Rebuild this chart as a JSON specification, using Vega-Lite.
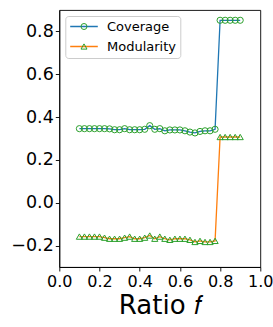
{
  "$schema": "https://vega.github.io/schema/vega-lite/v6.json",
  "autosize": "none",
  "padding": {"left": 59.3, "top": 10, "right": 12.7, "bottom": 60},
  "width": 201,
  "height": 257,
  "background": "white",
  "config": {
    "font": "DejaVu Sans",
    "view": {"stroke": "black", "strokeWidth": 0.9},
    "axis": {"grid": false, "domainColor": "black", "domainWidth": 0.9, "tickColor": "black", "tickWidth": 0.9, "tickSize": 4, "labelColor": "black", "titleColor": "black", "labelFont": "DejaVu Sans", "titleFont": "DejaVu Sans"}
  },
  "data": {"values": [
    {"x": 0.1, "series": "Coverage", "y": 0.346},
    {"x": 0.125, "series": "Coverage", "y": 0.346},
    {"x": 0.15, "series": "Coverage", "y": 0.346},
    {"x": 0.175, "series": "Coverage", "y": 0.346},
    {"x": 0.2, "series": "Coverage", "y": 0.346},
    {"x": 0.225, "series": "Coverage", "y": 0.346},
    {"x": 0.25, "series": "Coverage", "y": 0.345},
    {"x": 0.275, "series": "Coverage", "y": 0.341},
    {"x": 0.3, "series": "Coverage", "y": 0.341},
    {"x": 0.325, "series": "Coverage", "y": 0.346},
    {"x": 0.35, "series": "Coverage", "y": 0.341},
    {"x": 0.375, "series": "Coverage", "y": 0.341},
    {"x": 0.4, "series": "Coverage", "y": 0.341},
    {"x": 0.425, "series": "Coverage", "y": 0.343},
    {"x": 0.45, "series": "Coverage", "y": 0.36},
    {"x": 0.475, "series": "Coverage", "y": 0.343},
    {"x": 0.5, "series": "Coverage", "y": 0.346},
    {"x": 0.525, "series": "Coverage", "y": 0.336},
    {"x": 0.55, "series": "Coverage", "y": 0.34},
    {"x": 0.575, "series": "Coverage", "y": 0.34},
    {"x": 0.6, "series": "Coverage", "y": 0.34},
    {"x": 0.625, "series": "Coverage", "y": 0.336},
    {"x": 0.65, "series": "Coverage", "y": 0.33},
    {"x": 0.675, "series": "Coverage", "y": 0.326},
    {"x": 0.7, "series": "Coverage", "y": 0.333},
    {"x": 0.725, "series": "Coverage", "y": 0.336},
    {"x": 0.75, "series": "Coverage", "y": 0.336},
    {"x": 0.775, "series": "Coverage", "y": 0.343},
    {"x": 0.8, "series": "Coverage", "y": 0.852},
    {"x": 0.825, "series": "Coverage", "y": 0.852},
    {"x": 0.85, "series": "Coverage", "y": 0.852},
    {"x": 0.875, "series": "Coverage", "y": 0.852},
    {"x": 0.9, "series": "Coverage", "y": 0.852},
    {"x": 0.1, "series": "Modularity", "y": -0.158},
    {"x": 0.125, "series": "Modularity", "y": -0.158},
    {"x": 0.15, "series": "Modularity", "y": -0.158},
    {"x": 0.175, "series": "Modularity", "y": -0.158},
    {"x": 0.2, "series": "Modularity", "y": -0.158},
    {"x": 0.225, "series": "Modularity", "y": -0.163},
    {"x": 0.25, "series": "Modularity", "y": -0.168},
    {"x": 0.275, "series": "Modularity", "y": -0.168},
    {"x": 0.3, "series": "Modularity", "y": -0.168},
    {"x": 0.325, "series": "Modularity", "y": -0.163},
    {"x": 0.35, "series": "Modularity", "y": -0.158},
    {"x": 0.375, "series": "Modularity", "y": -0.168},
    {"x": 0.4, "series": "Modularity", "y": -0.168},
    {"x": 0.425, "series": "Modularity", "y": -0.163},
    {"x": 0.45, "series": "Modularity", "y": -0.153},
    {"x": 0.475, "series": "Modularity", "y": -0.168},
    {"x": 0.5, "series": "Modularity", "y": -0.158},
    {"x": 0.525, "series": "Modularity", "y": -0.168},
    {"x": 0.55, "series": "Modularity", "y": -0.173},
    {"x": 0.575, "series": "Modularity", "y": -0.168},
    {"x": 0.6, "series": "Modularity", "y": -0.168},
    {"x": 0.625, "series": "Modularity", "y": -0.168},
    {"x": 0.65, "series": "Modularity", "y": -0.173},
    {"x": 0.675, "series": "Modularity", "y": -0.183},
    {"x": 0.7, "series": "Modularity", "y": -0.178},
    {"x": 0.725, "series": "Modularity", "y": -0.183},
    {"x": 0.75, "series": "Modularity", "y": -0.183},
    {"x": 0.775, "series": "Modularity", "y": -0.178},
    {"x": 0.8, "series": "Modularity", "y": 0.307},
    {"x": 0.825, "series": "Modularity", "y": 0.307},
    {"x": 0.85, "series": "Modularity", "y": 0.307},
    {"x": 0.875, "series": "Modularity", "y": 0.307},
    {"x": 0.9, "series": "Modularity", "y": 0.307}
  ]},
  "encoding": {
    "x": {"field": "x", "type": "quantitative", "scale": {"domain": [0, 1], "nice": false, "zero": false},
      "axis": {"values": [0, 0.2, 0.4, 0.6, 0.8, 1.0], "format": ".1f", "labelFontSize": 16, "labelPadding": 2, "labelFlush": false, "labelOverlap": false, "title": "Ratio 𝑓", "titleFontSize": 26, "titleFontWeight": "normal", "titlePadding": 3}},
    "y": {"field": "y", "type": "quantitative", "scale": {"domain": [-0.3, 0.9], "nice": false, "zero": false},
      "axis": {"values": [-0.2, 0, 0.2, 0.4, 0.6, 0.8], "format": ".1f", "labelFontSize": 17.5, "labelPadding": 2, "labelFlush": false, "labelOverlap": false, "title": null}}
  },
  "layer": [
    {
      "mark": {"type": "line", "strokeWidth": 1.3},
      "encoding": {
        "color": {"field": "series", "type": "nominal",
          "scale": {"domain": ["Coverage", "Modularity"], "range": ["#1f77b4", "#ff7f0e"]},
          "legend": {"orient": "top-left", "offset": 6, "title": null, "symbolType": "M-4.6,0L4.6,0", "symbolSize": 36, "symbolStrokeWidth": 1.5, "symbolOffset": 8.2, "labelFontSize": 13, "labelFont": "DejaVu Sans", "labelColor": "black", "labelOffset": 16.5, "rowPadding": 6, "padding": 4, "fillColor": "white", "strokeColor": "#cccccc", "cornerRadius": 3, "labelLimit": 200}
        }
      }
    },
    {
      "mark": {"type": "point", "filled": false, "stroke": "#2ca02c", "strokeWidth": 1, "size": 38, "opacity": 1},
      "encoding": {
        "shape": {"field": "series", "type": "nominal",
          "scale": {"domain": ["Coverage", "Modularity"], "range": ["circle", "triangle-up"]},
          "legend": {"orient": "none", "legendX": 6, "legendY": 6, "title": null, "symbolSize": 36, "symbolStrokeColor": "#2ca02c", "symbolFillColor": "transparent", "symbolStrokeWidth": 1, "symbolOffset": 8.2, "labelFontSize": 13, "labelFont": "DejaVu Sans", "labelOpacity": 0, "labelOffset": 16.5, "rowPadding": 6, "padding": 4, "labelLimit": 200}
        }
      }
    }
  ]
}
